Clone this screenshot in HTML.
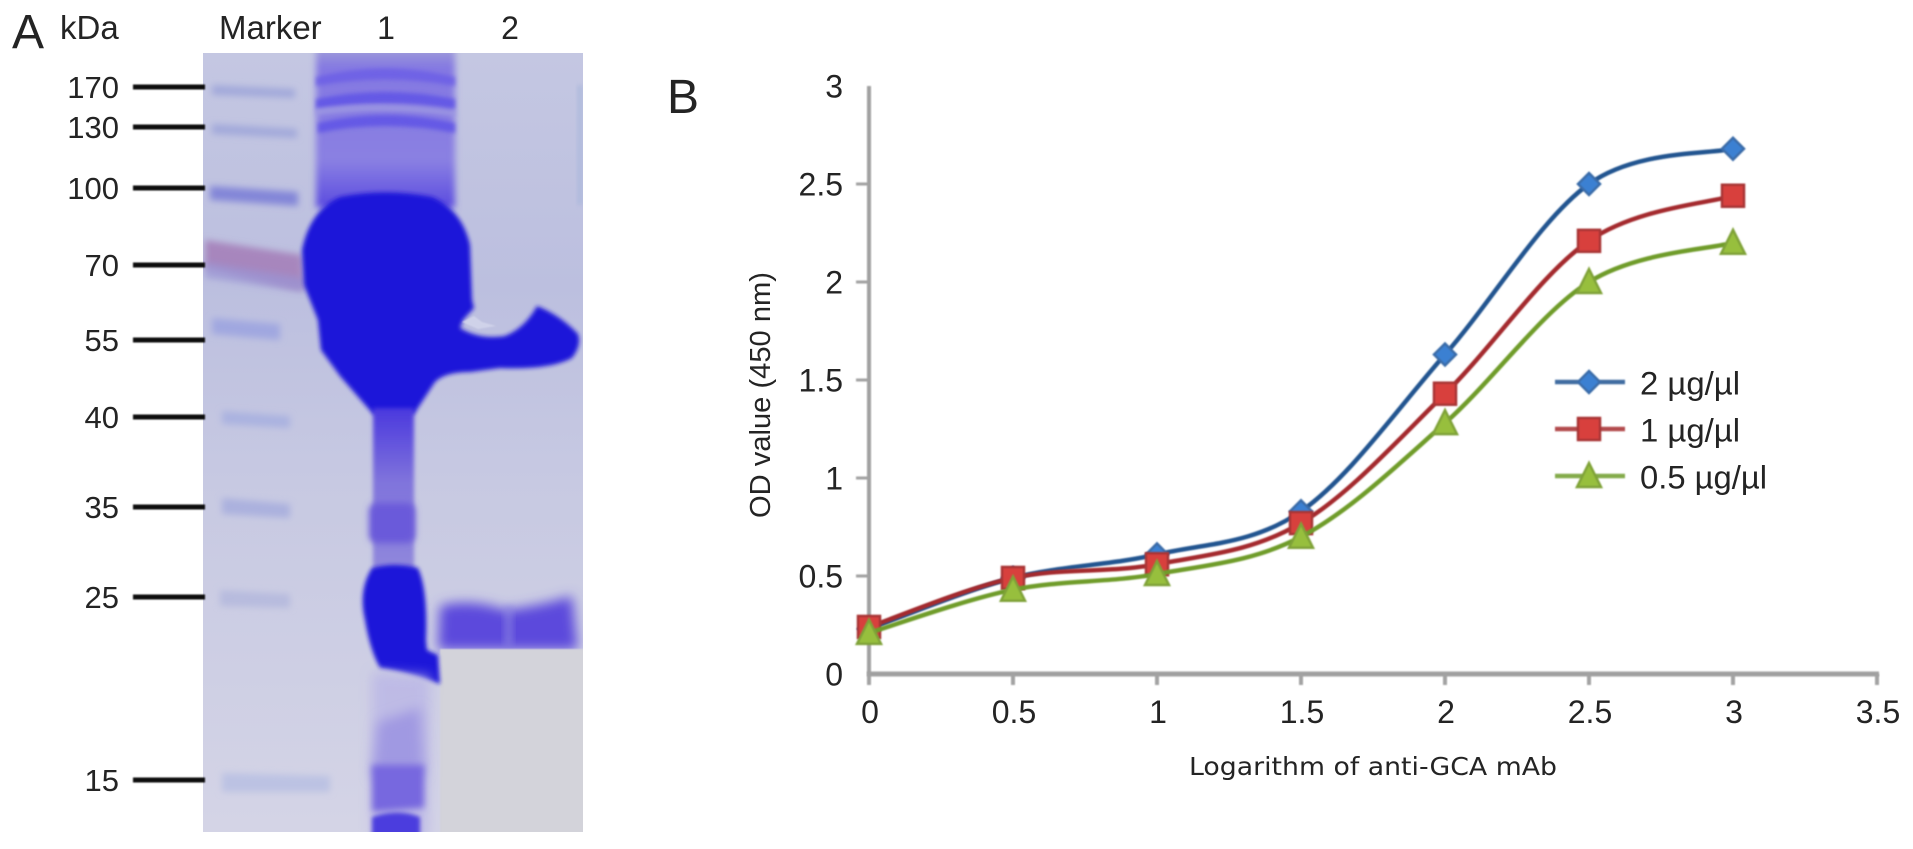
<!DOCTYPE html>
<html lang="en">
<head>
<meta charset="utf-8">
<title>Gel and OD curve figure</title>
<style>
html,body{margin:0;padding:0;background:#fff;width:1913px;height:849px;overflow:hidden}
svg{display:block}
text{font-family:"Liberation Sans",sans-serif;fill:#242424}
</style>
</head>
<body>
<svg id="figure" width="1913" height="849" viewBox="0 0 1913 849" xmlns="http://www.w3.org/2000/svg">
<defs>
<filter id="b1" x="-20%" y="-60%" width="140%" height="220%"><feGaussianBlur stdDeviation="0.7"/></filter>
<filter id="b2" x="-20%" y="-20%" width="140%" height="140%"><feGaussianBlur stdDeviation="2"/></filter>
<filter id="b3" x="-30%" y="-80%" width="160%" height="260%"><feGaussianBlur stdDeviation="3.5"/></filter>
<filter id="b6" x="-40%" y="-80%" width="180%" height="260%"><feGaussianBlur stdDeviation="6"/></filter>
<clipPath id="gelClip"><rect x="203" y="53" width="380" height="779"/></clipPath>
<linearGradient id="gelBg" x1="0" y1="0" x2="0" y2="1">
<stop offset="0" stop-color="#c4c7e2"/><stop offset="0.3" stop-color="#bcbfdf"/>
<stop offset="0.55" stop-color="#c7c9e2"/><stop offset="1" stop-color="#d4d4e6"/>
</linearGradient>
<linearGradient id="laneTop" x1="0" y1="0" x2="0" y2="1">
<stop offset="0" stop-color="#a09ed8"/><stop offset="0.12" stop-color="#8478e2"/>
<stop offset="0.7" stop-color="#8a80e2"/><stop offset="1" stop-color="#5a4ae0"/>
</linearGradient>
<linearGradient id="neck" x1="0" y1="0" x2="0" y2="1">
<stop offset="0" stop-color="#4a38de"/><stop offset="0.45" stop-color="#8074dc"/>
<stop offset="1" stop-color="#9088dc"/>
</linearGradient>
</defs>

<g id="gel-image" clip-path="url(#gelClip)">
<rect x="203" y="53" width="380" height="779" fill="url(#gelBg)"/>
<rect x="577" y="85" width="6" height="120" fill="#aab8dc" opacity="0.7" filter="url(#b2)"/>
<g>
<path d="M212 85 L295 89 L295 98 L212 95Z" fill="#a2a9da" filter="url(#b3)"/>
<path d="M212 124 L297 129 L297 138 L212 134Z" fill="#a2a9da" filter="url(#b3)"/>
<path d="M210 186 L298 192 L298 206 L210 200Z" fill="#8386d8" filter="url(#b3)"/>
<path d="M205 240 L302 255 L304 290 L290 288 L205 268Z" fill="#a786bd" filter="url(#b3)"/>
<path d="M205 262 L304 278 L304 292 L205 278Z" fill="#9a94d4" opacity="0.7" filter="url(#b3)"/>
<path d="M212 318 L280 324 L280 340 L212 334Z" fill="#a0a7e0" filter="url(#b3)"/>
<path d="M222 411 L290 416 L290 428 L222 424Z" fill="#aab2e0" filter="url(#b3)"/>
<path d="M222 498 L290 504 L290 518 L222 514Z" fill="#abb1de" filter="url(#b3)"/>
<path d="M220 590 L290 594 L290 608 L220 606Z" fill="#b7bbde" filter="url(#b3)"/>
<path d="M222 773 L330 776 L330 792 L222 792Z" fill="#bcc2e3" filter="url(#b3)"/>
</g>
<g>
<rect x="316" y="48" width="139" height="160" fill="url(#laneTop)" filter="url(#b3)"/>
<path d="M316 77 Q385 60 455 77 L455 86 Q385 73 316 86Z" fill="#6a5de6" opacity="0.8" filter="url(#b2)"/>
<path d="M316 99 Q385 85 455 99 L455 109 Q385 97 316 109Z" fill="#5f52e6" opacity="0.85" filter="url(#b2)"/>
<path d="M316 109 Q385 100 455 111 L455 116 Q385 106 316 115Z" fill="#a09ce2" opacity="0.8" filter="url(#b2)"/>
<path d="M318 123 Q385 107 455 123 L455 133 Q385 119 318 133Z" fill="#5f52e6" opacity="0.85" filter="url(#b2)"/>
</g>
<path fill="#1b12d9" filter="url(#b2)"
d="M340 197 Q385 188 432 197 Q462 210 470 245 L472 300 L474 308 L463 320 L460 328 Q480 340 505 336 Q525 328 537 306 Q560 315 578 334 Q582 345 572 358 Q550 370 500 368 L470 372 Q445 372 435 382 L414 414 L373 414 L340 376 L321 350 L318 320 L304 285 L302 250 Q310 210 340 197Z"/>
<path d="M462 322 L474 316 L482 322 L496 326 L478 329Z" fill="#d4d7ec" opacity="0.8" filter="url(#b1)"/>
<rect x="373" y="408" width="41" height="164" fill="url(#neck)" filter="url(#b2)"/>
<rect x="369" y="503" width="46" height="40" rx="8" fill="#6a5ada" filter="url(#b3)"/>
<path d="M440 606 Q470 598 505 610 Q540 606 572 596 L578 650 L438 650Z" fill="#5c48dc" filter="url(#b6)"/>
<rect x="504" y="606" width="9" height="40" fill="#8f88e2" opacity="0.55" filter="url(#b3)"/>
<rect x="440" y="649" width="146" height="188" fill="#d3d3da" filter="url(#b1)"/>
<path fill="#1c13d9" filter="url(#b2)"
d="M372 568 Q395 562 418 568 Q428 590 426 640 L427 650 L438 655 L440 684 Q410 672 380 668 Q370 650 365 620 Q358 590 372 568Z"/>
<g>
<path d="M372 672 L430 676 L428 840 L372 840Z" fill="#bab6e6" opacity="0.8" filter="url(#b6)"/>
<path d="M378 722 L420 708 L424 775 L372 778Z" fill="#a099e2" filter="url(#b6)"/>
<path d="M372 765 L424 765 L424 808 L372 812Z" fill="#7768df" filter="url(#b3)"/>
<path d="M372 817 Q398 808 420 817 L420 838 L372 838Z" fill="#4c3cde" filter="url(#b2)"/>
</g>
</g>

<text x="12" y="48" font-size="48">A</text>
<text x="60" y="39" font-size="33">kDa</text>
<text x="219" y="39" font-size="33">Marker</text>
<text x="386" y="39" font-size="32" text-anchor="middle">1</text>
<text x="510" y="39" font-size="32" text-anchor="middle">2</text>
<text x="667" y="113" font-size="48">B</text>

<g id="mw-ladder"></g>
<g id="chart"></g>
</svg>

<script>
// Gel ladder
const mwLabels = ["170", "130", "100", "70", "55", "40", "35", "25", "15"];
const mwRows = [87, 127, 188, 265, 340, 417, 507, 597, 780];

// Chart data
const xTickValues = [0, 0.5, 1, 1.5, 2, 2.5, 3, 3.5];
const xTickLabels = ["0", "0.5", "1", "1.5", "2", "2.5", "3", "3.5"];
const yTickValues = [0, 0.5, 1, 1.5, 2, 2.5, 3];
const yTickLabels = ["0", "0.5", "1", "1.5", "2", "2.5", "3"];
const logDose = [0, 0.5, 1, 1.5, 2, 2.5, 3];
const od2 = [0.23, 0.49, 0.61, 0.83, 1.63, 2.5, 2.68];
const od1 = [0.24, 0.49, 0.56, 0.77, 1.43, 2.21, 2.44];
const od05 = [0.21, 0.43, 0.51, 0.7, 1.28, 2.0, 2.2];
const seriesNames = ["2 µg/µl", "1 µg/µl", "0.5 µg/µl"];

const SVGNS = "http://www.w3.org/2000/svg";
const xAxis = function (v) { return 869 + v * 288; };
const yAxis = function (v) { return 674 - v * 196; };

function make(parent, tag, attrs, text) {
  const node = document.createElementNS(SVGNS, tag);
  for (const key in attrs) node.setAttribute(key, attrs[key]);
  if (text !== undefined) node.textContent = text;
  parent.appendChild(node);
  return node;
}

const ladder = document.getElementById("mw-ladder");
mwLabels.forEach(function (label, i) {
  const row = mwRows[i];
  const tick = make(ladder, "rect", { x: 133, y: row - 2.5, width: 72, height: 5, fill: "#111", filter: "url(#b1)" });
  
  
  const text = make(ladder, "text", { x: 119, y: row + 11, "font-size": 31, "text-anchor": "end" }, label);
  
  
});

const chart = document.getElementById("chart");

const yAxisLine = make(chart, "rect", { x: xAxis(0) - 2, y: yAxis(3), width: 4, height: yAxis(0) - yAxis(3), fill: "#a0a0a0", filter: "url(#b1)" });


const xAxisLine = make(chart, "rect", { x: xAxis(0) - 2, y: yAxis(0) - 2.5, width: xAxis(3.5) - xAxis(0) + 4, height: 5, fill: "#a0a0a0", filter: "url(#b1)" });



yTickValues.forEach(function (v, i) {
  const py = yAxis(v);
  if (v > 0 && v < 3) {
    const tick = make(chart, "rect", { x: xAxis(0) - 13, y: py - 1.5, width: 13, height: 3, fill: "#a2a2a2", filter: "url(#b1)" });
    
    
  }
  const label = make(chart, "text", { x: 843, y: py + 11.5, "font-size": 32, "text-anchor": "end" }, yTickLabels[i]);
  
  
});

xTickValues.forEach(function (v, i) {
  const px = xAxis(v);
  const tick = make(chart, "rect", { x: px - 2, y: yAxis(0), width: 4, height: 11, fill: "#a2a2a2", filter: "url(#b1)" });
  
  
  const label = make(chart, "text", { x: px + 1, y: 723, "font-size": 32, "text-anchor": "middle" }, xTickLabels[i]);
  
  
});

const yTitle = make(chart, "text", { transform: "translate(770 518) rotate(-90)", "font-size": 29, textLength: 246, lengthAdjust: "spacingAndGlyphs" }, "OD value (450 nm)");


const xTitle = make(chart, "text", { x: 1189, y: 775, "font-size": 25, textLength: 368, lengthAdjust: "spacingAndGlyphs" }, "Logarithm of anti-GCA mAb");
xTitle.style.fontFamily = '"DejaVu Sans", sans-serif';



function smoothPath(values) {
  const pts = values.map(function (v, i) { return [xAxis(logDose[i]), yAxis(v)]; });
  let d = "M" + pts[0][0] + " " + pts[0][1];
  for (let i = 0; i < pts.length - 1; i++) {
    const p0 = pts[Math.max(i - 1, 0)];
    const p1 = pts[i];
    const p2 = pts[i + 1];
    const p3 = pts[Math.min(i + 2, pts.length - 1)];
    const c1x = p1[0] + (p2[0] - p0[0]) / 6;
    const c1y = p1[1] + (p2[1] - p0[1]) / 6;
    const c2x = p2[0] - (p3[0] - p1[0]) / 6;
    const c2y = p2[1] - (p3[1] - p1[1]) / 6;
    d += " C" + c1x + " " + c1y + " " + c2x + " " + c2y + " " + p2[0] + " " + p2[1];
  }
  return d;
}

function drawMarker(parent, kind, cx, cy, fill, stroke) {
  let node;
  if (kind === "diamond") {
    node = make(parent, "polygon", { points: (cx - 11) + "," + cy + " " + cx + "," + (cy - 11) + " " + (cx + 11) + "," + cy + " " + cx + "," + (cy + 11) });
  } else if (kind === "square") {
    node = make(parent, "rect", { x: cx - 11, y: cy - 11, width: 22, height: 22 });
  } else {
    node = make(parent, "polygon", { points: (cx - 12) + "," + (cy + 11) + " " + cx + "," + (cy - 13) + " " + (cx + 12) + "," + (cy + 11) });
  }
  node.setAttribute("fill", fill);
  node.setAttribute("stroke", stroke);
  node.setAttribute("stroke-width", 2.5);
  return node;
}

const seriesValues = [od2, od1, od05];
const seriesLine = ["#225490", "#a42c2e", "#6f9c2a"];
const seriesFill = ["#3a80d2", "#d8403e", "#97bf3e"];
const seriesEdge = ["#3a6ca8", "#a83436", "#7fa238"];
const seriesShape = ["diamond", "square", "triangle"];

seriesValues.forEach(function (values, s) {
  const group = make(chart, "g", { filter: "url(#b1)" });
  
  
  const line = make(group, "path", { d: smoothPath(values), fill: "none", stroke: seriesLine[s], "stroke-width": 4.5, "stroke-linejoin": "round" });
  
  
  values.forEach(function (v, i) {
    const mark = drawMarker(group, seriesShape[s], xAxis(logDose[i]), yAxis(v), seriesFill[s], seriesEdge[s]);
    
    
  });
});

const legendRows = [382, 429, 476];
const legendWidths = [100, 100, 127];
seriesNames.forEach(function (name, s) {
  const row = legendRows[s];
  const entry = make(chart, "g", {});
  
  
  const swatch = make(entry, "g", { filter: "url(#b1)" });
  
  
  make(swatch, "rect", { x: 1555, y: row - 2.25, width: 70, height: 4.5, fill: seriesLine[s], opacity: 0.85 });
  drawMarker(swatch, seriesShape[s], 1589, row, seriesFill[s], seriesEdge[s]);
  const label = make(entry, "text", { x: 1640, y: row + 12.5, "font-size": 32, textLength: legendWidths[s], lengthAdjust: "spacingAndGlyphs" }, name);
  
  
});
</script>
</body>
</html>
